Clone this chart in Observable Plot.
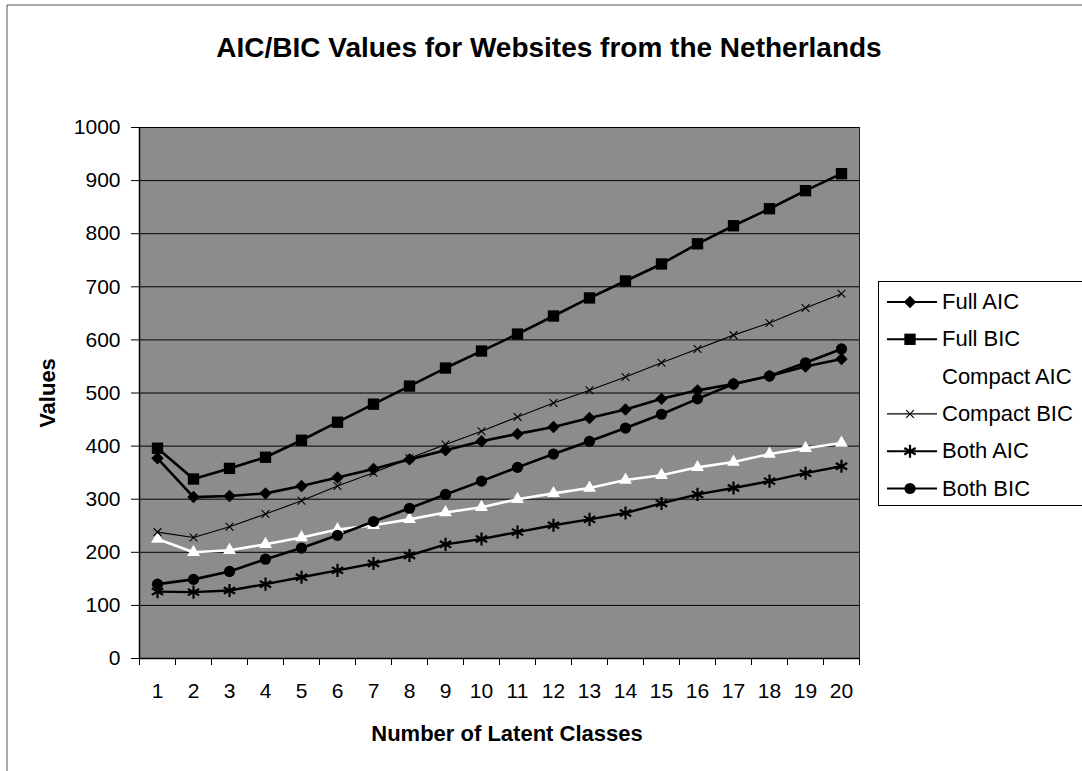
<!DOCTYPE html>
<html>
<head>
<meta charset="utf-8">
<script src="https://cdn.jsdelivr.net/npm/d3@7"></script>
<script src="https://cdn.jsdelivr.net/npm/@observablehq/plot@0.6"></script>
<style>
  body { margin: 0; background: #fff; font-family: "Liberation Sans", Arial, sans-serif; }
  #wrap { position: relative; width: 1082px; height: 771px; overflow: hidden; }
</style>
</head>
<body>
<div id="wrap"></div>
<script>
// ---- data ----
const classes = [1, 2, 3, 4, 5, 6, 7, 8, 9, 10, 11, 12, 13, 14, 15, 16, 17, 18, 19, 20];
const yTicks = [0, 100, 200, 300, 400, 500, 600, 700, 800, 900, 1000];
const seriesNames = ["Full AIC", "Full BIC", "Compact AIC", "Compact BIC", "Both AIC", "Both BIC"];

const fullAIC    = [377, 304, 306, 311, 325, 341, 357, 375, 392, 409, 423, 436, 453, 469, 489, 505, 517, 532, 550, 564];
const fullBIC    = [396, 338, 358, 379, 411, 445, 479, 513, 547, 579, 611, 645, 679, 711, 743, 781, 815, 847, 881, 913];
const compactAIC = [225, 200, 204, 215, 228, 243, 251, 262, 275, 285, 300, 311, 321, 336, 345, 360, 370, 385, 396, 406];
const compactBIC = [238, 228, 248, 272, 297, 325, 350, 377, 403, 428, 455, 481, 505, 530, 557, 583, 609, 632, 660, 687];
const bothAIC    = [126, 125, 128, 140, 153, 166, 179, 194, 215, 225, 238, 251, 262, 274, 292, 309, 321, 334, 349, 362];
const bothBIC    = [140, 149, 164, 187, 208, 232, 258, 283, 309, 334, 360, 385, 409, 434, 460, 489, 517, 532, 557, 583];

const seriesValues = [fullAIC, fullBIC, compactAIC, compactBIC, bothAIC, bothBIC];

// ---- styles ----
const styles = {
  "Full AIC":    {line: "#000", lw: 2.6, symbol: "diamond2", r: 5.6, fill: "#000", stroke: "none", sw: 0},
  "Full BIC":    {line: "#000", lw: 2.6, symbol: "square",   r: 6.4, fill: "#000", stroke: "none", sw: 0},
  "Compact AIC": {line: "#fff", lw: 2.6, symbol: "triangle", r: 4.8, fill: "#fff", stroke: "none", sw: 0},
  "Compact BIC": {line: "#000", lw: 1.1, symbol: "times",    r: 3.6, fill: "none", stroke: "#000", sw: 1.1},
  "Both AIC":    {line: "#000", lw: 2.4, symbol: "asterisk", r: 6.2, fill: "none", stroke: "#000", sw: 2.2},
  "Both BIC":    {line: "#000", lw: 2.6, symbol: "circle",   r: 5.6, fill: "#000", stroke: "none", sw: 0}
};

const rows = [];
seriesNames.forEach((name, i) => {
  seriesValues[i].forEach((v, j) => rows.push({series: name, x: classes[j], y: v}));
});

const boundaries = classes.map(c => c - 0.5).concat([classes[classes.length - 1] + 0.5]);

const W = 1082, H = 771;
const mL = 139, mR = 223, mT = 127, mB = 113;

const seriesMarks = [];
seriesNames.forEach(name => {
  const s = styles[name];
  const d = rows.filter(r => r.series === name);
  seriesMarks.push(Plot.line(d, {x: "x", y: "y", stroke: s.line, strokeWidth: s.lw}));
});
seriesNames.forEach(name => {
  const s = styles[name];
  const d = rows.filter(r => r.series === name);
  seriesMarks.push(Plot.dot(d, {x: "x", y: "y", symbol: () => s.symbol, r: s.r, fill: s.fill, stroke: s.stroke, strokeWidth: s.sw}));
});

const chart = Plot.plot({
  width: W,
  height: H,
  marginLeft: mL,
  marginRight: mR,
  marginTop: mT,
  marginBottom: mB,
  style: {fontFamily: "'Liberation Sans', Arial, sans-serif", fontSize: "21px", background: "transparent", color: "#000"},
  x: {type: "linear", domain: [boundaries[0], boundaries[boundaries.length - 1]]},
  y: {type: "linear", domain: [yTicks[0], yTicks[yTicks.length - 1]]},
  symbol: {type: "identity"},
  marks: [
    Plot.frame({fill: "#8c8c8c", stroke: "none"}),
    Plot.ruleY(yTicks.slice(1), {stroke: "#000", strokeWidth: 1}),
    Plot.axisY({ticks: yTicks, tickSize: 8, tickPadding: 11, label: null, fontSize: 21, tickFormat: d => String(d)}),
    Plot.axisX({ticks: classes, tickSize: 0, tickPadding: 25, label: null, fontSize: 21, tickFormat: d => String(d)}),
    Plot.axisX({ticks: boundaries, tickSize: 7, tickFormat: () => "", label: null}),
    Plot.ruleX([boundaries[0]], {stroke: "#000", strokeWidth: 1.5}),
    Plot.ruleX([boundaries[boundaries.length - 1]], {stroke: "#222", strokeWidth: 1}),
    Plot.ruleY([yTicks[0]], {stroke: "#000", strokeWidth: 1.5}),
    ...seriesMarks
  ]
});

const wrap = document.getElementById("wrap");
wrap.appendChild(chart);

const svg = d3.select(chart);
svg.style("position", "absolute").style("left", "0px").style("top", "0px").style("overflow", "visible");

// outer chart border
svg.append("line").attr("x1", 7).attr("x2", 7).attr("y1", 5).attr("y2", H).attr("stroke", "#555").attr("stroke-width", 1);
svg.append("line").attr("x1", 7).attr("x2", W).attr("y1", 5).attr("y2", 5).attr("stroke", "#555").attr("stroke-width", 1);

// title
svg.append("text")
  .attr("x", 549).attr("y", 57)
  .attr("text-anchor", "middle")
  .attr("font-weight", "bold").attr("font-size", 28)
  .attr("fill", "#000")
  .text("AIC/BIC Values for Websites from the Netherlands");

// axis titles
svg.append("text")
  .attr("transform", "translate(55,393) rotate(-90)")
  .attr("text-anchor", "middle")
  .attr("font-weight", "bold").attr("font-size", 22)
  .attr("fill", "#000")
  .text("Values");
svg.append("text")
  .attr("x", 507).attr("y", 741)
  .attr("text-anchor", "middle")
  .attr("font-weight", "bold").attr("font-size", 22)
  .attr("fill", "#000")
  .text("Number of Latent Classes");

// legend
const lg = svg.append("g").attr("text-anchor", "start");
lg.append("rect").attr("x", 878.5).attr("y", 281.5).attr("width", 220).attr("height", 224)
  .attr("fill", "#fff").attr("stroke", "#000").attr("stroke-width", 1);
const symMap = {diamond2: d3.symbolDiamond2, square: d3.symbolSquare, triangle: d3.symbolTriangle,
                times: d3.symbolTimes, asterisk: d3.symbolAsterisk, circle: d3.symbolCircle};
seriesNames.forEach((name, i) => {
  const s = styles[name];
  const base = 309 + 37.3 * i;
  const cy = base - 7;
  lg.append("line").attr("x1", 887).attr("x2", 937).attr("y1", cy).attr("y2", cy)
    .attr("stroke", s.line).attr("stroke-width", Math.min(s.lw, 2));
  lg.append("path")
    .attr("d", d3.symbol(symMap[s.symbol], Math.PI * s.r * s.r)())
    .attr("transform", `translate(910,${cy})`)
    .attr("fill", s.fill).attr("stroke", s.stroke).attr("stroke-width", s.sw);
  lg.append("text").attr("x", 942).attr("y", base)
    .attr("text-anchor", "start")
    .attr("font-size", 22).attr("fill", "#000")
    .text(name);
});
</script>
</body>
</html>
